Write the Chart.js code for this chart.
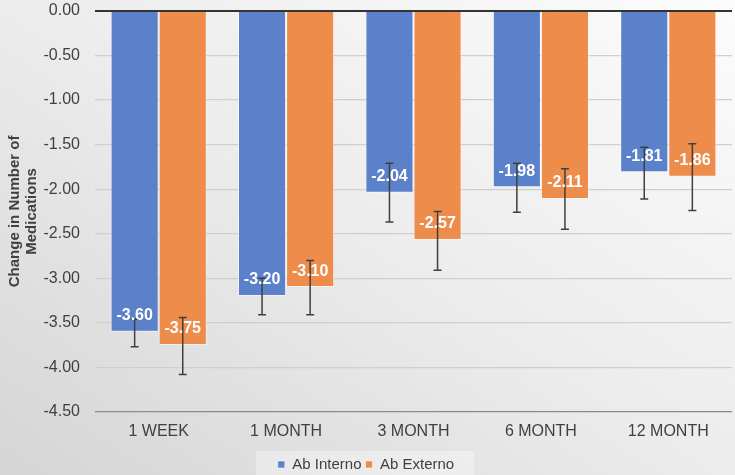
<!DOCTYPE html>
<html>
<head>
<meta charset="utf-8">
<script src="https://cdn.jsdelivr.net/npm/chart.js@4/dist/chart.umd.min.js"></script>
<style>
  html, body { margin: 0; padding: 0; }
  body {
    width: 735px; height: 475px; overflow: hidden;
    background: linear-gradient(to bottom left, #fcfcfc 0%, #ececec 50%, #d5d5d5 100%);
  }
  canvas { display: block; }
</style>
</head>
<body>
<canvas id="c" width="735" height="475"></canvas>
<script>
const categories = ['1 WEEK', '1 MONTH', '3 MONTH', '6 MONTH', '12 MONTH'];
const seriesNames = ['Ab Interno', 'Ab Externo'];
const abInterno = [-3.60, -3.20, -2.04, -1.98, -1.81];
const abExterno = [-3.75, -3.10, -2.57, -2.11, -1.86];
const abInternoErrHigh = [-3.46, -3.00, -1.71, -1.71, -1.53];
const abInternoErrLow  = [-3.77, -3.41, -2.37, -2.26, -2.11];
const abExternoErrHigh = [-3.44, -2.80, -2.25, -1.77, -1.49];
const abExternoErrLow  = [-4.08, -3.41, -2.91, -2.45, -2.24];
const yMin = -4.5, yMax = 0, yStep = 0.5;

const FONT = '"Liberation Sans", Arial, Helvetica, sans-serif';
const errHigh = [abInternoErrHigh, abExternoErrHigh];
const errLow = [abInternoErrLow, abExternoErrLow];

const legendBg = {
  id: 'legendBg',
  beforeDraw(chart) {
    const lg = chart.legend;
    if (!lg || !lg.legendHitBoxes || !lg.legendHitBoxes.length) return;
    const hb = lg.legendHitBoxes;
    const l = hb[0].left - 22;
    const r = hb[hb.length - 1].left + hb[hb.length - 1].width + 20;
    const t = hb[0].top - 6;
    const ctx = chart.ctx;
    ctx.save();
    ctx.fillStyle = 'rgba(255,255,255,0.35)';
    ctx.fillRect(l, t, r - l, chart.height - t);
    ctx.restore();
  }
};

const extras = {
  id: 'extras',
  afterDatasetsDraw(chart) {
    const ctx = chart.ctx;
    const y = chart.scales.y;
    ctx.save();
    // zero line
    ctx.strokeStyle = '#333333';
    ctx.lineWidth = 2;
    ctx.beginPath();
    const y0 = y.getPixelForValue(0);
    ctx.moveTo(chart.chartArea.left, y0);
    ctx.lineTo(chart.chartArea.right, y0);
    ctx.stroke();
    // error bars
    ctx.strokeStyle = '#404040';
    ctx.lineWidth = 1.5;
    chart.data.datasets.forEach((ds, di) => {
      const meta = chart.getDatasetMeta(di);
      meta.data.forEach((bar, i) => {
        const x = bar.x;
        const yh = y.getPixelForValue(errHigh[di][i]);
        const yl = y.getPixelForValue(errLow[di][i]);
        ctx.beginPath();
        ctx.moveTo(x, yh); ctx.lineTo(x, yl);
        ctx.moveTo(x - 4, yh); ctx.lineTo(x + 4, yh);
        ctx.moveTo(x - 4, yl); ctx.lineTo(x + 4, yl);
        ctx.stroke();
      });
    });
    // data labels
    ctx.fillStyle = '#ffffff';
    ctx.font = 'bold 16px ' + FONT;
    ctx.textAlign = 'center';
    ctx.textBaseline = 'middle';
    chart.data.datasets.forEach((ds, di) => {
      const meta = chart.getDatasetMeta(di);
      meta.data.forEach((bar, i) => {
        ctx.fillText(ds.data[i].toFixed(2), bar.x, bar.y - 16);
      });
    });
    ctx.restore();
  }
};

new Chart(document.getElementById('c'), {
  type: 'bar',
  data: {
    labels: categories,
    datasets: [
      { label: seriesNames[0], data: abInterno, backgroundColor: '#5b81cb', borderColor: 'rgba(255,255,255,0.5)', borderWidth: 1 },
      { label: seriesNames[1], data: abExterno, backgroundColor: '#ee8c4c', borderColor: 'rgba(255,255,255,0.5)', borderWidth: 1 }
    ]
  },
  options: {
    responsive: false,
    animation: false,
    devicePixelRatio: 1,
    layout: { padding: { top: 11, right: 3, bottom: -7, left: 0 } },
    datasets: { bar: { barPercentage: 1.0, categoryPercentage: 0.755 } },
    plugins: {
      legend: {
        position: 'bottom',
        labels: {
          boxWidth: 7, boxHeight: 7, padding: 4,
          color: '#404040',
          font: { family: FONT, size: 15 }
        }
      },
      tooltip: { enabled: false }
    },
    scales: {
      x: {
        afterFit(scale) { scale.height += 10; },
        grid: { display: false },
        border: { display: false },
        ticks: { color: '#404040', font: { family: FONT, size: 16 }, padding: 2 }
      },
      y: {
        min: yMin, max: yMax,
        afterFit(scale) { scale.width = 95; scale.paddingTop = 0; scale.paddingBottom = 0; },
        border: { display: false },
        grid: {
          drawTicks: false,
          color: (c) => c.tick && c.tick.value === yMin ? '#8a8a8a' : (c.tick && c.tick.value === 0 ? 'rgba(0,0,0,0)' : '#cfcfcf'),
          lineWidth: 1.2
        },
        ticks: {
          stepSize: yStep,
          padding: 15,
          color: '#404040',
          font: { family: FONT, size: 16 },
          callback: (v) => Number(v).toFixed(2)
        },
        title: {
          display: true,
          text: ['Change in Number of', 'Medications'],
          color: '#404040',
          font: { family: FONT, size: 15, weight: 'bold', lineHeight: 1.1 },
          padding: { top: 7, bottom: 0 }
        }
      }
    }
  },
  plugins: [legendBg, extras]
});
</script>
</body>
</html>
